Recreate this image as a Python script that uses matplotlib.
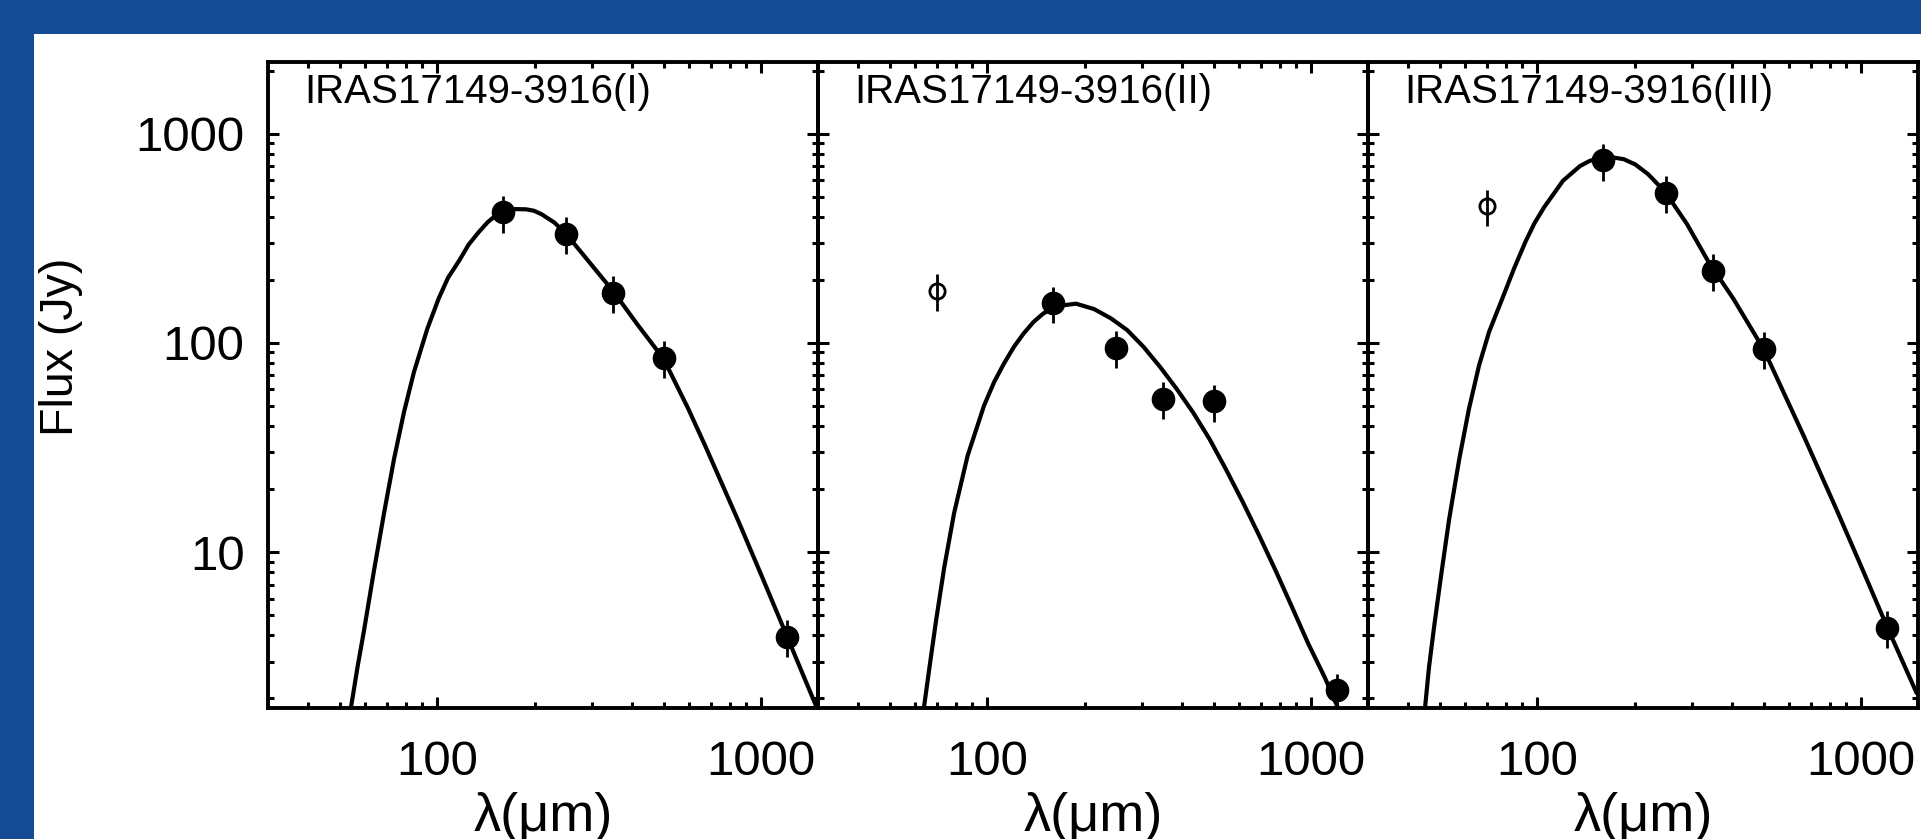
import numpy as np
import matplotlib
matplotlib.use('Agg')
import matplotlib.pyplot as plt
from matplotlib.patches import Rectangle
from matplotlib.ticker import FixedLocator, NullFormatter

plt.rcParams['font.family'] = ['Liberation Sans', 'DejaVu Sans']

# Photometry wavelengths (micron)
wave = [160, 250, 350, 500, 1200]
wave_open = 70

# Panel names
names = ['IRAS17149-3916(I)', 'IRAS17149-3916(II)', 'IRAS17149-3916(III)']

# Fluxes (Jy) of the filled points
flux_I = [420, 332, 174, 85, 3.95]
flux_II = [155, 94.5, 54, 52.5, 2.19]
flux_III = [745, 522, 221, 94, 4.35]

# 70 micron points, open symbols (none in panel I)
open_flux = [None, 178, 450]

# Fractional error on every point
err_frac = 0.2

# Fitted curves
fit_wave_I = [54.1, 56.7, 59.4, 63.8, 68.5, 73.5, 78.9, 84.7, 93.2, 101, 108,
              117, 125, 134, 143, 152, 163, 174, 188, 199, 210, 230, 250, 295,
              350, 416, 500, 597, 672, 851, 1003, 1200, 1500]
fit_flux_I = [1.8, 2.82, 4.23, 8.22, 15.4, 27.8, 46.6, 72.5, 117, 163, 205,
              248, 295, 337, 377, 408, 427, 436, 435, 428, 412, 376, 332, 243,
              176, 122, 84, 48.2, 32.3, 14.1, 7.75, 4.0, 1.75]

fit_wave_II = [63.7, 66.3, 69.5, 73.7, 79.0, 86.9, 97.7, 105, 112.5, 121,
               129.5, 139, 149.1, 165, 188, 214, 241, 270.6, 304, 342, 384.6,
               432, 486, 546, 614, 690, 776, 873, 981, 1103, 1212]
fit_flux_II = [1.8, 2.82, 4.73, 8.53, 15.4, 28.8, 50.1, 65, 79.5, 96, 110.9,
               126, 138.4, 150, 154, 145, 131, 115.1, 95.7, 76.7, 60.3, 46.6,
               34.7, 24.9, 17.5, 12.1, 8.22, 5.48, 3.65, 2.52, 1.8]

fit_wave_III = [45.0, 46.3, 48.0, 50.4, 53.4, 57.4, 61.5, 66.1, 71.0, 78.0, 85,
                92, 98, 105, 120, 135.5, 145, 154.5, 166, 185, 201, 220, 248,
                290, 339, 403, 500, 665, 843, 1007, 1200, 1490]
fit_flux_III = [1.8, 2.82, 4.39, 7.64, 14.3, 27.8, 48.3, 78.1, 113, 163, 229,
                305, 373, 445, 595, 700, 740, 765, 776, 755, 712, 640, 528,
                370, 242, 163, 93.5, 36.0, 15.8, 8.38, 4.45, 2.1]

fluxes = [flux_I, flux_II, flux_III]
fit_waves = [fit_wave_I, fit_wave_II, fit_wave_III]
fit_fluxes = [fit_flux_I, fit_flux_II, fit_flux_III]

W, H = 1921, 839
fig = plt.figure(figsize=(W / 100, H / 100), dpi=100)
fig.patch.set_facecolor('#164c95')

# White slide panel, kept behind the axes
fig.patches.append(Rectangle((34 / W, 0), 1, 1 - 34 / H, transform=fig.transFigure,
                             facecolor='white', edgecolor='none', zorder=-5))

ax_left = [268, 818, 1368]
ax_w = 550
ax_top, ax_bot = 62, 708

for i in range(3):
    ax = fig.add_axes([ax_left[i] / W, (H - ax_bot) / H, ax_w / W, (ax_bot - ax_top) / H])
    ax.set_facecolor('none')
    ax.set_xscale('log')
    ax.set_yscale('log')

    # Model curve
    ax.plot(fit_waves[i], fit_fluxes[i], color='black', lw=3.0,
            solid_joinstyle='round', solid_capstyle='butt')

    # Filled points
    f = np.array(fluxes[i])
    ax.errorbar(wave, f, yerr=err_frac * f, fmt='o', color='black', ms=16,
                elinewidth=2.0, capsize=0, zorder=3)

    # Open 70 micron point
    if open_flux[i] is not None:
        ax.errorbar([wave_open], [open_flux[i]], yerr=[err_frac * open_flux[i]],
                    fmt='o', mfc='none', mec='black', mew=2.0, color='black',
                    ms=11, elinewidth=2.0, capsize=0, zorder=3)

    ax.set_xlim(30, 1500)
    ax.set_ylim(1.8, 2200)

    ax.xaxis.set_major_locator(FixedLocator([100, 1000]))
    ax.xaxis.set_minor_locator(FixedLocator([40, 50, 60, 70, 80, 90, 200, 300, 400,
                                             500, 600, 700, 800, 900]))
    ax.set_xticklabels(['100', '1000'])
    ax.xaxis.set_minor_formatter(NullFormatter())

    ax.yaxis.set_major_locator(FixedLocator([10, 100, 1000]))
    ax.yaxis.set_minor_locator(FixedLocator([m * d for d in (1, 10, 100, 1000)
                                             for m in range(2, 10)]))
    ax.yaxis.set_minor_formatter(NullFormatter())
    if i == 0:
        ax.set_yticklabels(['10', '100', '1000'])
    else:
        ax.set_yticklabels([])

    ax.tick_params(which='both', direction='in', top=True, right=True,
                   width=2.2, colors='black')
    ax.tick_params(which='major', length=8, labelsize=35.5)
    ax.tick_params(which='minor', length=4)
    ax.tick_params(axis='x', which='major', pad=23)
    ax.tick_params(axis='y', which='major', pad=17)
    for s in ax.spines.values():
        s.set_linewidth(2.8)

    ax.text(0.066, 0.954, names[i], transform=ax.transAxes, ha='left', va='center',
            fontsize=29)
    ax.text(0.5, -0.168, 'λ(μm)', transform=ax.transAxes, ha='center', va='center',
            fontsize=39)

fig.text(61 / W, 1 - 347 / H, 'Flux (Jy)', rotation=90, ha='center', va='center',
         fontsize=33.5)

fig.savefig('out.png', dpi=100, facecolor=fig.get_facecolor())
